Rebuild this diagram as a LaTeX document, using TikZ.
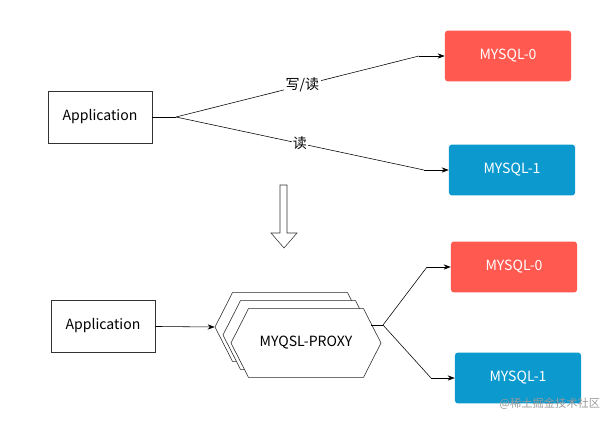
\documentclass[tikz,border=0pt]{standalone}
\usepackage{fontspec}
\setmainfont{Noto Sans CJK SC}
\definecolor{DbRed}{RGB}{255, 89, 80}
\definecolor{DbBlue}{RGB}{12, 154, 206}
\usetikzlibrary{arrows.meta, positioning, shapes.symbols}

\begin{document}
\begin{tikzpicture}[x=0.025cm, y=-0.025cm,
        app/.style={rectangle, draw=black!80, fill=white, minimum width=2.6cm, minimum height=1.3cm, font=\normalsize},
        db/.style={rectangle, rounded corners=2pt, minimum width=3.15cm, minimum height=1.27cm, text=white, font=\normalsize},
        proxy/.style={signal, signal to=west and east, signal pointer angle=126, draw=black!85, fill=white, minimum width=3.75cm, minimum height=1.72cm, inner sep=0pt, font=\normalsize},
        arrow/.style={-{Stealth[length=5pt]}, thin},
        line/.style={thin}
    ]
        \useasboundingbox (0,0) rectangle (613,422);
        % top: direct access
        \node[app] (app1) at (100,117) {Application};
        \node[db, fill=DbRed] (db0) at (508,56) {MYSQL-0};
        \node[db, fill=DbBlue] (db1) at (512,170) {MYSQL-1};
        \coordinate (j1) at (176,117);
        \coordinate (k0) at (419,56);
        \coordinate (k1) at (424,170);
        \draw[line] (app1) -- (j1);
        \draw[line] (j1) -- node[pos=0.52, fill=white, inner sep=1pt] {写/读} (k0);
        \draw[arrow] (k0) -- (db0);
        \draw[line] (j1) -- node[pos=0.5, fill=white, inner sep=1pt] {读} (k1);
        \draw[arrow] (k1) -- (db1);
        % transition
        \draw[draw=black!80, fill=white] (280,185) -- (287,185) -- (287,233) -- (297,233)
            -- (284,248) -- (271,233) -- (280,233) -- cycle;
        % bottom: through proxy
        \node[app] (app2) at (103,326) {Application};
        \node[proxy] (px3) at (290,327) {};
        \node[proxy] (px2) at (298,335) {};
        \node[proxy] (px1) at (306,343) {MYQSL-PROXY};
        \node[db, fill=DbRed] (db2) at (514,267) {MYSQL-0};
        \node[db, fill=DbBlue] (db3) at (518,378) {MYSQL-1};
        \coordinate (j2) at (383,325);
        \coordinate (k2) at (427,267);
        \coordinate (k3) at (431,378);
        \draw[arrow] (app2) -- (px3.west);
        \draw[line] (px1.east |- j2) ++(-10,0) -- (j2);
        \draw[line] (j2) -- (k2);
        \draw[arrow] (k2) -- (db2);
        \draw[line] (j2) -- (k3);
        \draw[arrow] (k3) -- (db3);
        \node[text=black!40, font=\footnotesize, anchor=east] (mark) at (605,404) {@稀土掘金技术社区};
    \end{tikzpicture}
\end{document}
